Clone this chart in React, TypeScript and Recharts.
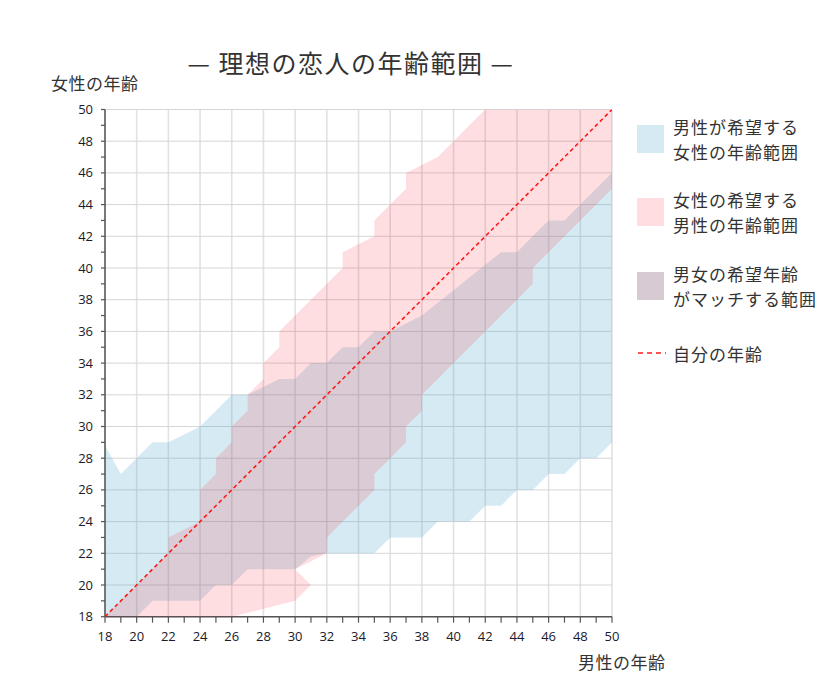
import { ComposedChart, Area, Line, XAxis, YAxis, CartesianGrid } from 'recharts';

// ages on both axes (18..50)
const ages = [
  18, 19, 20, 21, 22, 23, 24, 25, 26, 27, 28, 29, 30, 31, 32, 33, 34,
  35, 36, 37, 38, 39, 40, 41, 42, 43, 44, 45, 46, 47, 48, 49, 50,
];
const gridAges = [18, 20, 22, 24, 26, 28, 30, 32, 34, 36, 38, 40, 42, 44, 46, 48, 50];

// men (x) -> women's age range they want (y)
const womenWantedLow = [
  18, 18, 18, 19, 19, 19, 19, 20, 20, 21, 21, 21, 21, 21.8, 22, 22, 22,
  22, 23, 23, 23, 24, 24, 24, 25, 25, 26, 26, 27, 27, 28, 28, 29,
];
const womenWantedHigh = [
  28.8, 27, 28, 29, 29, 29.5, 30, 31, 32, 32, 32.5, 33, 33, 34, 34, 35, 35,
  36, 36, 36.5, 37, 37.8, 38.6, 39.4, 40.2, 41, 41, 42, 43, 43, 44, 45, 46,
];

// women (y) -> men's age range they want (x)
const menWantedLow = [
  18, 19, 20, 21, 22, 22, 24, 24, 24, 25, 25, 26, 26, 27, 27, 28, 28,
  29, 29, 30, 31, 32, 33, 33, 35, 35, 36, 37, 37, 39, 40, 41, 42,
];
const menWantedHigh = [
  26, 30, 31, 30, 32, 32, 33, 34, 35, 35, 36, 37, 37, 38, 38, 39, 40,
  41, 42, 43, 44, 45, 45, 46, 47, 48, 49, 50, 50, 50, 50, 50, 50,
];

const legendItems = [
  { lines: ['男性が希望する', '女性の年齢範囲'], color: '#d5eaf2', top: 114 },
  { lines: ['女性の希望する', '男性の年齢範囲'], color: '#ffdde0', top: 187 },
  { lines: ['男女の希望年齢', 'がマッチする範囲'], color: '#d8cad2', top: 261 },
];

const W = 840;
const H = 691;
const FONT = '"Noto Sans CJK JP", "Noto Sans", sans-serif';
const NUM_FONT = '"Open Sans", "DejaVu Sans", sans-serif';

const menData = ages.map((age, i) => ({
  age,
  range: [womenWantedLow[i], womenWantedHigh[i]],
}));

const womenData = ages.map((age, i) => ({
  age,
  range: [menWantedLow[i], menWantedHigh[i]],
  self: age,
}));

function XTick(props: any) {
  const { x, y, payload } = props;
  const v = payload.value;
  return (
    <g>
      <line x1={x} y1={y} x2={x} y2={y + 6} stroke="#555" strokeWidth={1.2} />
      {v % 2 === 0 && (
        <text x={x} y={y + 24} textAnchor="middle" fontSize={13} fontFamily={NUM_FONT} fill="#1a1a2a">
          {v}
        </text>
      )}
    </g>
  );
}

function YTick(props: any) {
  const { x, y, payload } = props;
  const v = payload.value;
  return (
    <g>
      <line x1={x - 4} y1={y} x2={x} y2={y} stroke="#555" strokeWidth={1.2} />
      {v % 2 === 0 && (
        <text x={x - 12} y={y + 4.5} textAnchor="end" fontSize={13} fontFamily={NUM_FONT} fill="#1a1a2a">
          {v}
        </text>
      )}
    </g>
  );
}

export default function App() {
  return (
    <div style={{ position: 'absolute', left: 0, top: 0, width: W, height: H, background: '#fff', fontFamily: FONT }}>
      <div style={{ position: 'absolute', left: 0, top: 0 }}>
        <ComposedChart
          width={W}
          height={H}
          data={menData}
          margin={{ top: 109.5, right: 228, bottom: 44.3, left: 65 }}
        >
          <CartesianGrid horizontal={false} verticalValues={gridAges} stroke="#e2e2e2" strokeWidth={1.6} />
          <CartesianGrid vertical={false} horizontalValues={gridAges} stroke="#d6d6d6" strokeWidth={1} />
          <XAxis
            type="number"
            dataKey="age"
            domain={[18, 50]}
            allowDataOverflow
            ticks={ages}
            interval={0}
            height={30}
            tickSize={0}
            tickMargin={0}
            tickLine={false}
            tick={(p: any) => <XTick {...p} />}
            axisLine={{ stroke: '#555', strokeWidth: 1.5 }}
          />
          <YAxis
            type="number"
            domain={[18, 50]}
            allowDataOverflow
            ticks={ages}
            interval={0}
            width={40}
            tickSize={0}
            tickMargin={0}
            tickLine={false}
            tick={(p: any) => <YTick {...p} />}
            axisLine={{ stroke: '#555', strokeWidth: 1.5 }}
          />
          <Area
            type="linear"
            dataKey="range"
            stroke="none"
            fill="#4aa6c8"
            fillOpacity={0.23}
            isAnimationActive={false}
          />
        </ComposedChart>
      </div>

      <div style={{ position: 'absolute', left: 0, top: 0 }}>
        <ComposedChart
          layout="vertical"
          width={W}
          height={H}
          data={womenData}
          margin={{ top: 109.5, right: 228, bottom: 74.3, left: 105 }}
        >
          <XAxis type="number" domain={[18, 50]} allowDataOverflow hide />
          <YAxis type="number" dataKey="age" domain={[18, 50]} allowDataOverflow reversed hide />
          <Area
            type="linear"
            dataKey="range"
            stroke="none"
            fill="#ff0a1e"
            fillOpacity={0.135}
            isAnimationActive={false}
          />
          <Line
            type="linear"
            dataKey="self"
            stroke="#ff1a1a"
            strokeWidth={1.6}
            strokeDasharray="4 3"
            dot={false}
            isAnimationActive={false}
          />
        </ComposedChart>
      </div>

      <div
        style={{
          position: 'absolute',
          left: 0,
          width: 702,
          top: 46,
          textAlign: 'center',
          fontSize: 25,
          lineHeight: '32px',
          letterSpacing: 1.5,
          color: '#333',
          whiteSpace: 'nowrap',
        }}
      >
        — 理想の恋人の年齢範囲 —
      </div>
      <div style={{ position: 'absolute', left: 51, top: 72, fontSize: 17, lineHeight: '22px', letterSpacing: 0.5, color: '#333' }}>
        女性の年齢
      </div>
      <div style={{ position: 'absolute', left: 578, top: 651, fontSize: 17, lineHeight: '22px', letterSpacing: 0.5, color: '#333' }}>
        男性の年齢
      </div>

      {legendItems.map((item) => (
        <div key={item.lines[0]}>
          <div
            style={{
              position: 'absolute',
              left: 637,
              top: item.top + 11,
              width: 27,
              height: 28,
              background: item.color,
            }}
          />
          <div
            style={{
              position: 'absolute',
              left: 673,
              top: item.top,
              fontSize: 17,
              lineHeight: '25px',
              letterSpacing: 1,
              color: '#333',
              whiteSpace: 'nowrap',
            }}
          >
            {item.lines[0]}
            <br />
            {item.lines[1]}
          </div>
        </div>
      ))}
      <svg style={{ position: 'absolute', left: 636, top: 348 }} width={32} height={10}>
        <line x1={2} y1={5} x2={30} y2={5} stroke="#ff1a1a" strokeWidth={1.6} strokeDasharray="5 4" />
      </svg>
      <div
        style={{
          position: 'absolute',
          left: 673,
          top: 341,
          fontSize: 17,
          lineHeight: '25px',
          letterSpacing: 1,
          color: '#333',
          whiteSpace: 'nowrap',
        }}
      >
        自分の年齢
      </div>
    </div>
  );
}
